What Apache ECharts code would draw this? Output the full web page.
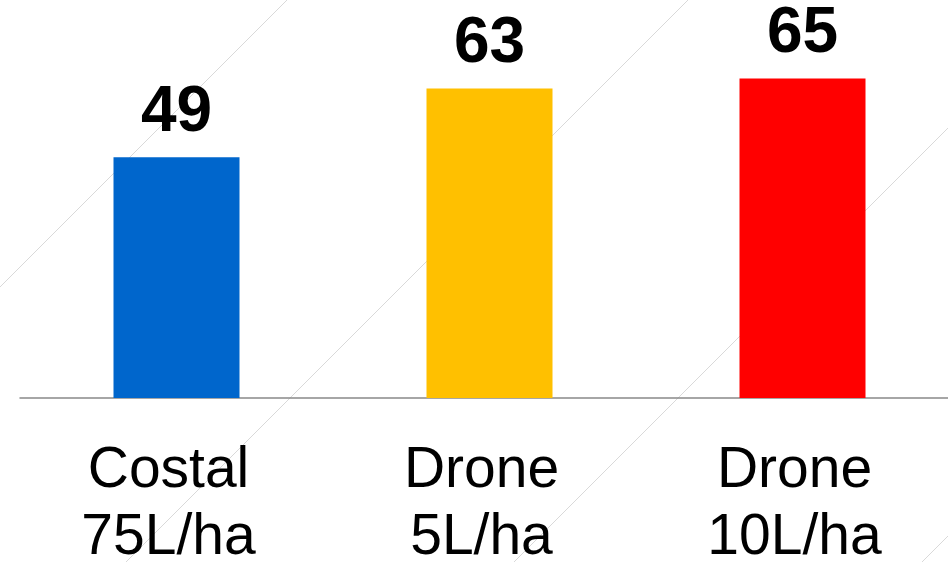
<!DOCTYPE html>
<html>
<head>
<meta charset="utf-8">
<script src="https://cdn.jsdelivr.net/npm/echarts@6/dist/echarts.min.js"></script>
<style>
  html, body { margin: 0; padding: 0; background: #fff; }
  #main { width: 948px; height: 562px; }
</style>
</head>
<body>
<div id="main"></div>
<script>
// categories and values
var categories = ["Costal\n75L/ha", "Drone\n5L/ha", "Drone\n10L/ha"];
var values = [49, 63, 65];
var barColors = ["#0066CC", "#FFC000", "#FF0000"];

var chart = echarts.init(document.getElementById("main"));

// faint diagonal background strokes
function diag(x1, y1, x2, y2) {
  return {
    type: "line",
    silent: true,
    z: -10,
    shape: { x1: x1, y1: y1, x2: x2, y2: y2 },
    style: { stroke: "#d9d9d9", lineWidth: 1 }
  };
}

var option = {
  backgroundColor: "#ffffff",
  animation: false,
  graphic: [
    diag(287, 0, 0, 287),
    diag(688, 0, 126, 562),
    diag(948, 128, 514, 562),
    diag(948, 536, 922, 562)
  ],
  grid: {
    left: 20,
    width: 939,
    top: 0,
    bottom: 164,
    containLabel: false,
    outerBoundsMode: "none"
  },
  xAxis: {
    type: "category",
    data: categories,
    axisLine: { show: true, lineStyle: { color: "#898989", width: 1.5 } },
    axisTick: { show: false },
    axisLabel: {
      color: "#000",
      fontFamily: "Liberation Sans, Arial, sans-serif",
      fontSize: 57,
      lineHeight: 67,
      margin: 40,
      padding: [0, 16, 0, 0]
    }
  },
  yAxis: {
    type: "value",
    min: 0,
    max: 81,
    show: false,
    splitLine: { show: false }
  },
  series: [
    {
      type: "bar",
      data: values.map(function (v, i) {
        return { value: v, itemStyle: { color: barColors[i] } };
      }),
      barWidth: 126,
      label: {
        show: true,
        position: "top",
        distance: 12,
        color: "#000",
        fontWeight: "bold",
        fontFamily: "Liberation Sans, Arial, sans-serif",
        fontSize: 64
      }
    }
  ]
};

chart.setOption(option);
</script>
</body>
</html>
